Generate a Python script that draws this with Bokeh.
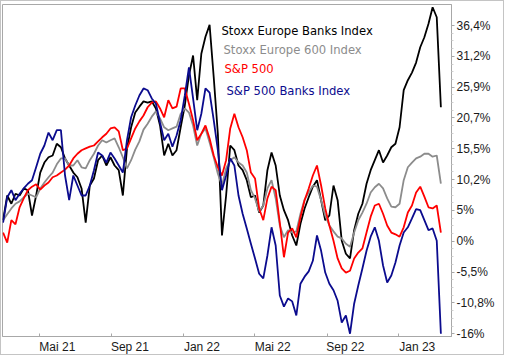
import pandas as pd
from bokeh.plotting import figure
from bokeh.models import FixedTicker, Range1d, Label
from bokeh.embed import file_html
from bokeh.resources import INLINE

# ---- data (weekly readings, % change) ----
start_date = "2021-03-01"
dates = pd.date_range(start_date, periods=107, freq="7D")

stoxx_banks = [3.3, 7.5, 6.1, 7.8, 7.5, 8.7, 8.4, 4.1, 7.5, 11.4,
               13.1, 14.0, 14.3, 16.3, 15.7, 13.8, 12.6, 11.4, 10.6, 8.7,
               2.9, 9.2, 10.4, 13.5, 14.3, 12.6, 14.0, 12.6, 11.8, 7.5,
               15.5, 19.1, 21.6, 22.6, 23.5, 23.3, 23.5, 22.3, 19.4, 14.3,
               16.3, 14.3, 15.2, 19.1, 22.8, 27.9, 31.3, 23.7, 31.6, 34.5,
               36.5, 27.6, 18.0, 0.7, 7.5, 16.0, 15.2, 12.6, 11.8, 10.1,
               7.2, 7.5, 4.6, 5.8, 11.8, 14.8, 12.6, 7.5, 5.0, 3.3,
               0.7, -1.0, 2.7, 5.3, 7.2, 9.0, 10.1, 6.7, 3.3, 4.1,
               9.2, 6.7, -0.2, -2.4, -3.2, 1.6, 4.4, 6.1, 9.5, 11.8,
               13.5, 15.2, 13.1, 14.3, 15.7, 16.3, 19.1, 25.4, 27.1, 28.4,
               30.1, 32.7, 34.4, 36.7, 39.5, 37.8, 22.5]

stoxx_600 = [3.3, 4.3, 5.3, 6.1, 6.5, 7.2, 7.8, 7.5, 7.2, 8.7,
             9.7, 10.6, 11.4, 12.8, 13.8, 13.8, 12.6, 12.6, 13.5, 12.3,
             12.1, 13.5, 14.6, 16.0, 16.9, 16.5, 16.9, 17.2, 15.7, 14.0,
             12.1, 13.5, 15.3, 16.7, 18.7, 19.7, 20.9, 21.8, 20.6, 19.1,
             18.6, 18.9, 19.2, 21.4, 22.3, 21.6, 19.4, 16.0, 18.0, 18.9,
             16.5, 14.0, 11.2, 9.2, 12.1, 13.5, 14.0, 13.1, 12.6, 11.4,
             8.4, 7.0, 4.8, 5.8, 8.7, 10.1, 7.0, 2.4, 0.4, 1.6,
             1.2, 1.4, 4.4, 6.8, 8.0, 9.2, 9.0, 6.7, 4.1, 2.4,
             1.4, 0.5, 0.2, -0.7, -1.2, 1.2, 3.3, 4.6, 6.1, 8.0,
             8.9, 9.5, 8.7, 7.0, 5.6, 5.5, 6.1, 10.1, 12.3, 13.1,
             13.8, 14.1, 14.6, 14.6, 14.1, 14.3, 9.5]

sp500 = [1.2, -0.5, 3.3, 2.6, 5.5, 7.0, 8.4, 9.0, 9.4, 8.5,
         9.2, 9.7, 10.6, 10.9, 11.4, 11.9, 12.6, 13.8, 14.6, 15.2,
         15.5, 15.8, 16.0, 16.7, 17.4, 18.0, 18.9, 19.1, 18.4, 15.2,
         15.5, 17.2, 18.9, 20.1, 21.1, 22.5, 23.3, 23.5, 22.3, 20.8,
         23.7, 22.3, 22.6, 25.7, 25.7, 23.1, 20.3, 16.9, 18.0, 19.4,
         17.2, 14.3, 12.3, 10.9, 13.5, 18.9, 21.4, 19.1, 17.4, 15.2,
         11.4, 10.4, 5.3, 3.3, 7.0, 9.0, 8.4, 2.9, -3.0, 1.2,
         1.9, 0.4, 3.8, 6.7, 8.7, 10.9, 12.6, 9.2, 5.3, 2.4,
         -0.2, -3.2, -4.9, -5.6, -5.3, -3.2, -2.2, -1.5, 1.2, 3.9,
         5.8, 6.1, 4.4, 2.4, 1.2, 0.9, 0.5, 2.1, 4.6, 5.8,
         8.0, 9.0, 7.3, 5.5, 5.3, 5.8, 1.2]

sp500_banks = [2.9, 7.2, 8.4, 6.7, 7.8, 8.7, 9.5, 10.1, 12.3, 14.6,
               16.0, 18.2, 16.9, 18.6, 18.6, 10.9, 6.7, 10.9, 9.2, 7.5,
               7.5, 9.2, 11.8, 14.8, 14.3, 13.1, 14.8, 13.8, 12.6, 11.4,
               16.9, 20.8, 22.8, 24.5, 25.7, 25.4, 24.0, 23.1, 19.9, 16.9,
               18.0, 15.8, 17.7, 20.3, 24.5, 29.3, 24.0, 18.6, 21.4, 25.7,
               25.0, 20.3, 15.2, 8.4, 10.9, 13.8, 12.6, 7.5, 4.4, 1.9,
               -0.7, -3.2, -5.8, -6.6, -2.7, 2.1, -1.0, -9.5, -11.4, -10.0,
               -10.5, -12.9, -7.5, -6.3, -5.4, -3.6, 0.7, -1.9, -5.6, -7.5,
               -8.6, -10.4, -14.1, -12.9, -16.0, -10.9, -7.8, -4.9, -1.9, 0.5,
               2.1, -0.2, -4.4, -7.3, -6.1, -3.9, -1.0, 1.2, 2.1, 3.6,
               5.2, 5.0, 3.3, 1.6, 1.9, -0.2, -16.0]

series_names = ["Stoxx Europe Banks Index", "Stoxx Europe 600 Index",
                "S&P 500", "S&P 500 Banks Index"]
series_colors = ["#000000", "#8c8c8c", "#ff0000", "#0b0b8e"]

y_ticks = [-16, -10.76, -5.52, -0.28, 4.96, 10.2, 15.44, 20.68, 25.92, 31.16, 36.4]
y_tick_labels = ["-16%", "-10,8%", "-5,5%", "0%", "5%", "10,2%",
                 "15,5%", "20,7%", "25,9%", "31,2%", "36,4%"]
x_tick_dates = ["2021-05-01", "2021-09-01", "2022-01-01",
                "2022-05-01", "2022-09-01", "2023-01-01"]
x_tick_labels = ["Mai 21", "Sep 21", "Jan 22", "Mai 22", "Sep 22", "Jan 23"]

# ---- figure ----
p = figure(width=504, height=355, x_axis_type="datetime", y_axis_location="right",
           output_backend="svg", toolbar_location=None,
           x_range=Range1d(pd.Timestamp("2021-02-28"), pd.Timestamp("2023-03-31")),
           y_range=Range1d(-16.47, 39.97),
           min_border_left=1, min_border_top=3, min_border_right=54, min_border_bottom=20)
p.styles = {"border": "1px solid #c4c4c4"}
p.background_fill_color = "white"
p.border_fill_color = "white"
p.outline_line_color = "#a8a8a8"
p.xgrid.visible = False
p.ygrid.visible = False

all_series = [stoxx_banks, stoxx_600, sp500, sp500_banks]
for vals, col in zip(all_series, series_colors):
    p.line(dates, vals, line_color=col, line_width=1.8)

# y axis (right)
ms_day = 86400000
minor_y = []
for a, b in zip(y_ticks[:-1], y_ticks[1:]):
    step = (b - a) / 4
    minor_y += [a + step * k for k in range(1, 4)]
p.yaxis.ticker = FixedTicker(ticks=y_ticks, minor_ticks=minor_y)
p.yaxis.major_label_overrides = {t: l for t, l in zip(y_ticks, y_tick_labels)}
p.yaxis.axis_line_color = "#a8a8a8"
p.yaxis.major_tick_line_color = "#a8a8a8"
p.yaxis.major_tick_in = 0
p.yaxis.major_tick_out = 3
p.yaxis.minor_tick_line_color = "#d0d0d0"
p.yaxis.minor_tick_in = 0
p.yaxis.minor_tick_out = 2
p.yaxis.major_label_standoff = 2
p.yaxis.major_label_text_font = "Liberation Sans"
p.yaxis.major_label_text_font_size = "12px"
p.yaxis.major_label_text_color = "#1a1a1a"

# x axis: month-start marks as minor ticks, labels centred just right of them
month_ms = [pd.Timestamp(d).value // 10**6 for d in x_tick_dates]
label_ms = [float(m + 31 * ms_day) for m in month_ms]
p.xaxis.ticker = FixedTicker(ticks=label_ms, minor_ticks=[float(m) for m in month_ms])
p.xaxis.major_label_overrides = {t: l for t, l in zip(label_ms, x_tick_labels)}
p.xaxis.axis_line_color = "#a8a8a8"
p.xaxis.major_tick_in = 0
p.xaxis.major_tick_out = 0
p.xaxis.minor_tick_in = 3
p.xaxis.minor_tick_out = 0
p.xaxis.minor_tick_line_color = "#a8a8a8"
p.xaxis.major_label_standoff = 3
p.xaxis.major_label_text_font = "Liberation Sans"
p.xaxis.major_label_text_font_size = "12px"
p.xaxis.major_label_text_color = "#1a1a1a"

# legend as coloured text
legend_pos = [(219, 306), (221, 287), (222, 268), (224, 246)]
for name, col, (lx, ly) in zip(series_names, series_colors, legend_pos):
    p.add_layout(Label(x=lx, y=ly, x_units="screen", y_units="screen", text=name,
                       text_color=col, text_font="DejaVu Sans", text_font_size="11.6px",
                       text_baseline="middle", text_align="left"))

open("out.html", "w").write(file_html(p, INLINE))
